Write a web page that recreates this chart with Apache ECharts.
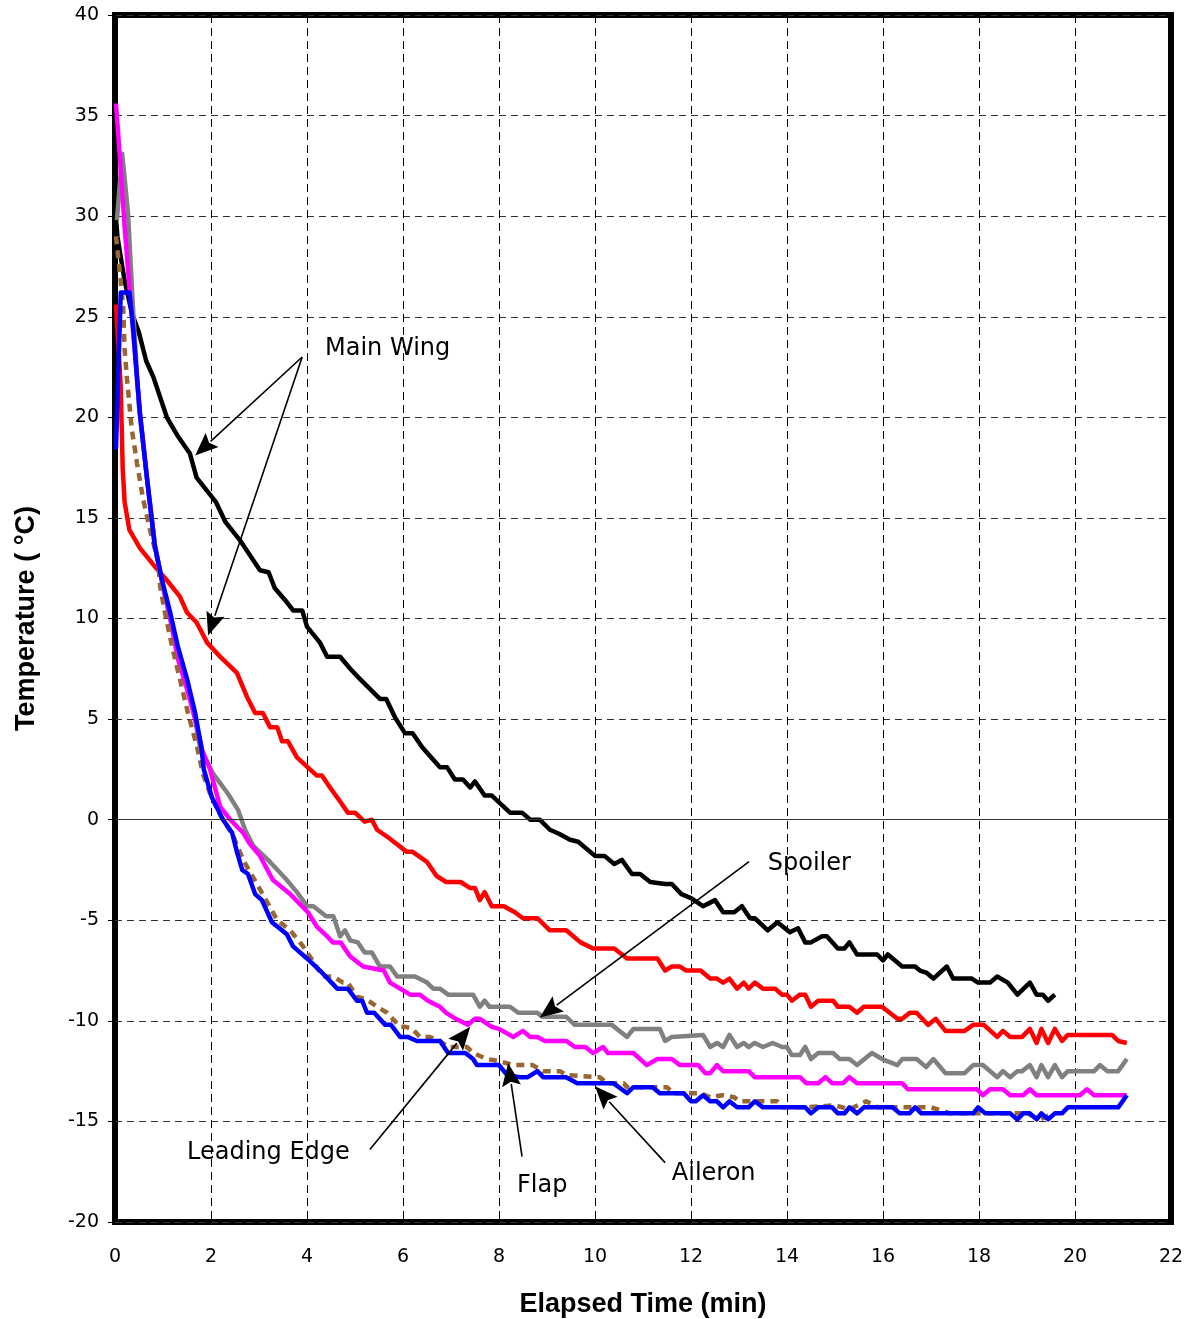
<!DOCTYPE html>
<html>
<head>
<meta charset="utf-8">
<script src="https://cdn.jsdelivr.net/npm/echarts@6/dist/echarts.min.js"></script>
<style>
html,body{margin:0;padding:0;background:#fff;}
#chart{width:1190px;height:1319px;}
</style>
</head>
<body>
<div id="chart"></div>
<script>
// ---- Data: [elapsed time (min), temperature (°C)] ----
var mainWingUpper = [[0.0,30.5],[0.05,29.0],[0.2,26.8],[0.35,25.2],[0.5,24.2],[0.65,22.8],[0.8,22.0],[1.08,20.0],[1.3,19.1],[1.56,18.2],[1.7,17.0],[2.1,15.8],[2.3,14.8],[2.6,13.9],[3.02,12.4],[3.2,12.3],[3.33,11.5],[3.55,10.9],[3.71,10.4],[3.9,10.4],[4.0,9.6],[4.27,8.8],[4.42,8.1],[4.69,8.1],[4.9,7.5],[5.1,7.0],[5.52,6.0],[5.65,6.0],[5.83,5.1],[6.04,4.3],[6.2,4.3],[6.4,3.6],[6.77,2.6],[6.92,2.6],[7.08,2.0],[7.25,2.0],[7.4,1.6],[7.5,1.9],[7.7,1.2],[7.85,1.2],[8.23,0.35],[8.48,0.35],[8.65,0.0],[8.85,0.0],[9.06,-0.5],[9.25,-0.7],[9.48,-1.0],[9.65,-1.1],[10.0,-1.8],[10.2,-1.8],[10.4,-2.2],[10.56,-2.0],[10.77,-2.7],[10.94,-2.7],[11.15,-3.1],[11.46,-3.2],[11.6,-3.2],[11.8,-3.7],[12.0,-3.9],[12.25,-4.3],[12.5,-4.0],[12.67,-4.6],[12.9,-4.6],[13.06,-4.3],[13.23,-4.9],[13.33,-4.9],[13.6,-5.5],[13.8,-5.1],[14.06,-5.6],[14.23,-5.4],[14.38,-6.1],[14.5,-6.1],[14.73,-5.8],[14.83,-5.8],[15.06,-6.4],[15.2,-6.4],[15.3,-6.1],[15.46,-6.7],[15.88,-6.7],[16.0,-7.0],[16.1,-6.7],[16.4,-7.3],[16.67,-7.3],[16.77,-7.5],[16.9,-7.6],[17.05,-7.9],[17.33,-7.3],[17.46,-7.9],[17.85,-7.9],[17.98,-8.1],[18.23,-8.1],[18.38,-7.8],[18.6,-8.1],[18.8,-8.7],[19.06,-8.1],[19.2,-8.7],[19.33,-8.7],[19.44,-9.0],[19.58,-8.7]];

var mainWingLower = [[0.02,25.6],[0.12,21.5],[0.16,17.5],[0.2,15.8],[0.3,14.4],[0.52,13.5],[0.79,12.7],[1.08,11.9],[1.35,11.1],[1.5,10.3],[1.7,9.8],[1.92,8.8],[2.19,8.1],[2.54,7.3],[2.75,6.1],[2.92,5.3],[3.08,5.3],[3.23,4.6],[3.38,4.6],[3.48,3.9],[3.6,3.9],[3.79,3.1],[4.2,2.2],[4.31,2.2],[4.48,1.6],[4.69,0.9],[4.85,0.35],[5.0,0.35],[5.2,-0.1],[5.35,0.0],[5.46,-0.5],[5.7,-0.9],[6.08,-1.6],[6.2,-1.6],[6.5,-2.1],[6.7,-2.8],[6.9,-3.1],[7.2,-3.1],[7.4,-3.4],[7.5,-3.4],[7.6,-4.0],[7.7,-3.6],[7.85,-4.3],[8.1,-4.3],[8.33,-4.6],[8.5,-4.9],[8.8,-4.9],[9.06,-5.5],[9.4,-5.5],[9.7,-6.1],[9.96,-6.4],[10.4,-6.4],[10.67,-6.9],[11.3,-6.9],[11.46,-7.5],[11.6,-7.3],[11.77,-7.3],[11.9,-7.5],[12.2,-7.5],[12.4,-7.9],[12.54,-7.9],[12.67,-8.1],[12.8,-7.9],[12.96,-8.4],[13.1,-8.1],[13.2,-8.4],[13.33,-8.1],[13.5,-8.4],[13.75,-8.4],[13.9,-8.7],[14.0,-8.7],[14.1,-9.0],[14.27,-8.7],[14.38,-8.7],[14.5,-9.3],[14.65,-9.0],[14.96,-9.0],[15.06,-9.3],[15.3,-9.3],[15.46,-9.6],[15.6,-9.3],[15.98,-9.3],[16.3,-9.9],[16.4,-9.9],[16.56,-9.6],[16.7,-9.6],[16.94,-10.2],[17.1,-9.9],[17.3,-10.5],[17.7,-10.5],[17.88,-10.2],[18.1,-10.2],[18.38,-10.8],[18.5,-10.5],[18.65,-10.8],[18.9,-10.8],[19.06,-10.4],[19.2,-11.1],[19.3,-10.4],[19.44,-11.1],[19.58,-10.4],[19.73,-11.0],[19.85,-10.7],[20.77,-10.7],[20.9,-11.0],[21.08,-11.1]];

var spoiler = [[0.04,29.8],[0.15,33.1],[0.27,30.2],[0.38,25.2],[0.5,20.5],[0.67,16.9],[0.83,13.7],[1.0,11.5],[1.15,10.0],[1.31,8.4],[1.5,6.8],[1.67,5.0],[1.77,3.6],[2.04,2.3],[2.35,1.3],[2.56,0.5],[2.71,-0.5],[2.88,-1.3],[3.23,-2.1],[3.58,-3.0],[3.79,-3.6],[4.0,-4.3],[4.13,-4.3],[4.4,-4.8],[4.55,-4.8],[4.69,-5.8],[4.79,-5.5],[4.9,-6.0],[5.06,-6.1],[5.2,-6.6],[5.35,-6.6],[5.52,-7.3],[5.73,-7.3],[5.88,-7.8],[6.25,-7.8],[6.5,-8.1],[6.63,-8.4],[6.77,-8.4],[6.94,-8.7],[7.46,-8.7],[7.6,-9.3],[7.7,-9.0],[7.8,-9.3],[8.23,-9.3],[8.4,-9.6],[8.8,-9.6],[8.9,-9.8],[9.4,-9.8],[9.58,-10.2],[10.35,-10.2],[10.67,-10.8],[10.8,-10.4],[11.35,-10.4],[11.46,-11.0],[11.6,-10.8],[12.25,-10.7],[12.4,-11.3],[12.54,-11.1],[12.67,-11.3],[12.8,-10.7],[12.96,-11.3],[13.1,-11.1],[13.2,-11.3],[13.33,-11.1],[13.5,-11.3],[13.7,-11.1],[13.9,-11.3],[14.0,-11.3],[14.1,-11.7],[14.27,-11.7],[14.38,-11.3],[14.5,-11.9],[14.65,-11.6],[14.96,-11.6],[15.1,-11.9],[15.3,-11.9],[15.46,-12.2],[15.77,-11.6],[15.98,-11.9],[16.3,-12.2],[16.4,-11.9],[16.7,-11.9],[16.9,-12.3],[17.05,-11.9],[17.3,-12.6],[17.7,-12.6],[17.88,-12.2],[18.08,-12.2],[18.38,-12.8],[18.5,-12.5],[18.65,-12.8],[18.8,-12.5],[18.9,-12.5],[19.06,-12.2],[19.2,-12.8],[19.3,-12.2],[19.44,-12.8],[19.58,-12.2],[19.73,-12.8],[19.85,-12.5],[20.4,-12.5],[20.52,-12.2],[20.67,-12.5],[20.9,-12.5],[21.08,-11.9]];

var leadingEdge = [[0.02,35.6],[0.1,33.0],[0.2,29.5],[0.31,26.2],[0.46,21.9],[0.52,20.2],[0.67,16.9],[0.83,13.6],[0.98,11.9],[1.15,10.0],[1.31,8.0],[1.5,6.5],[1.67,5.0],[1.81,3.5],[1.98,2.5],[2.19,0.65],[2.4,0.0],[2.67,-0.65],[2.81,-1.2],[3.02,-1.8],[3.29,-3.0],[3.65,-3.7],[4.02,-4.6],[4.2,-5.3],[4.42,-5.8],[4.54,-6.1],[4.7,-6.1],[4.9,-6.8],[5.17,-7.3],[5.6,-7.5],[5.73,-8.1],[5.94,-8.4],[6.15,-8.7],[6.35,-8.7],[6.52,-9.0],[6.77,-9.3],[6.9,-9.6],[7.1,-9.9],[7.35,-10.2],[7.5,-9.9],[7.6,-9.9],[7.85,-10.3],[8.0,-10.4],[8.3,-10.8],[8.5,-10.5],[8.65,-10.8],[8.8,-10.8],[8.96,-11.0],[9.4,-11.0],[9.58,-11.3],[9.8,-11.3],[9.96,-11.6],[10.17,-11.3],[10.27,-11.6],[10.8,-11.6],[11.08,-12.2],[11.3,-11.9],[11.6,-11.9],[11.77,-12.2],[12.15,-12.2],[12.3,-12.6],[12.4,-12.6],[12.54,-12.2],[12.67,-12.5],[13.2,-12.5],[13.33,-12.8],[14.27,-12.8],[14.4,-13.1],[14.65,-13.1],[14.8,-12.8],[14.94,-13.1],[15.17,-13.1],[15.3,-12.8],[15.46,-13.1],[16.4,-13.1],[16.52,-13.4],[17.96,-13.4],[18.08,-13.7],[18.23,-13.4],[18.5,-13.4],[18.65,-13.7],[18.92,-13.7],[19.06,-13.4],[19.2,-13.7],[20.1,-13.7],[20.25,-13.4],[20.4,-13.7],[21.08,-13.7]];

var flap = [[0.02,29.0],[0.1,27.2],[0.17,25.5],[0.2,23.4],[0.25,21.9],[0.35,19.4],[0.46,17.7],[0.58,16.0],[0.73,14.4],[0.9,12.8],[0.94,11.6],[1.04,10.3],[1.19,8.6],[1.35,7.0],[1.52,5.3],[1.71,3.6],[1.83,2.3],[1.98,1.3],[2.2,0.2],[2.46,-0.8],[2.67,-2.0],[2.98,-3.3],[3.17,-4.1],[3.38,-5.0],[3.65,-5.5],[3.92,-6.3],[4.06,-6.8],[4.33,-7.8],[4.55,-7.8],[4.75,-8.1],[4.85,-8.1],[5.04,-8.8],[5.25,-8.95],[5.46,-9.3],[5.67,-9.6],[5.94,-10.3],[6.05,-10.3],[6.2,-10.4],[6.35,-10.8],[6.55,-10.8],[6.77,-11.0],[6.94,-11.3],[7.33,-11.3],[7.46,-11.6],[7.75,-11.9],[8.0,-12.0],[8.3,-12.2],[8.7,-12.2],[8.92,-12.5],[9.27,-12.5],[9.4,-12.7],[10.1,-12.8],[10.25,-13.1],[10.6,-13.1],[10.67,-13.3],[11.5,-13.3],[11.63,-13.6],[12.2,-13.6],[12.4,-13.8],[12.65,-13.7],[12.9,-13.8],[13.0,-14.0],[13.8,-14.0],[13.9,-14.3],[14.4,-14.3],[15.0,-14.2],[15.3,-14.4],[15.65,-14.0],[15.9,-14.3],[16.5,-14.3],[17.0,-14.3],[17.4,-14.6],[18.0,-14.6],[18.5,-14.6],[19.0,-14.6],[19.27,-14.9],[19.55,-14.6]];

var aileron = [[0.02,18.4],[0.12,26.2],[0.3,26.2],[0.38,24.4],[0.46,21.9],[0.52,20.2],[0.67,16.9],[0.83,13.6],[0.98,11.9],[1.15,10.3],[1.31,8.6],[1.5,7.0],[1.67,5.3],[1.8,3.6],[1.85,2.5],[2.02,1.1],[2.25,0.0],[2.44,-0.65],[2.54,-1.6],[2.65,-2.5],[2.77,-2.7],[2.92,-3.7],[3.06,-4.0],[3.27,-5.1],[3.58,-5.7],[3.71,-6.3],[4.0,-6.9],[4.27,-7.5],[4.63,-8.4],[4.85,-8.4],[5.04,-9.0],[5.15,-9.0],[5.25,-9.6],[5.4,-9.6],[5.63,-10.2],[5.75,-10.2],[5.94,-10.8],[6.1,-10.8],[6.29,-11.0],[6.77,-11.0],[6.94,-11.6],[7.3,-11.6],[7.46,-11.9],[7.54,-12.2],[8.0,-12.2],[8.17,-12.7],[8.44,-12.8],[8.6,-12.8],[8.8,-12.5],[8.92,-12.8],[9.4,-12.8],[9.63,-13.1],[10.38,-13.1],[10.67,-13.6],[10.8,-13.3],[11.2,-13.3],[11.35,-13.6],[11.85,-13.6],[12.0,-14.0],[12.1,-14.0],[12.25,-13.7],[12.4,-14.0],[12.54,-14.0],[12.67,-14.3],[12.8,-14.0],[12.96,-14.3],[13.2,-14.3],[13.33,-14.0],[13.5,-14.3],[14.38,-14.3],[14.5,-14.6],[14.65,-14.3],[14.94,-14.3],[15.06,-14.6],[15.2,-14.6],[15.3,-14.3],[15.46,-14.6],[15.6,-14.3],[16.2,-14.3],[16.35,-14.6],[16.55,-14.6],[16.67,-14.3],[16.8,-14.6],[17.88,-14.6],[17.98,-14.3],[18.13,-14.6],[18.65,-14.6],[18.8,-14.9],[18.92,-14.6],[19.06,-14.6],[19.2,-14.9],[19.3,-14.6],[19.44,-14.9],[19.58,-14.6],[19.73,-14.6],[19.85,-14.3],[20.9,-14.3],[21.08,-13.7]];

var xTicks = {min: 0, max: 22, interval: 2};
var yTicks = {min: -20, max: 40, interval: 5};

var labelFont = 'DejaVu Sans';
var titleFont = 'Liberation Sans';

var chart = echarts.init(document.getElementById('chart'), null, {renderer: 'canvas'});

function lineSeries(name, data, color, extra) {
  var s = {
    name: name, type: 'line', data: data, showSymbol: false, symbol: 'none',
    animation: false, silent: true,
    lineStyle: {color: color, width: 4.5, join: 'round'},
    z: 3
  };
  if (extra) for (var k in extra) s[k] = extra[k];
  return s;
}

var option = {
  animation: false,
  backgroundColor: '#fff',
  grid: {left: 115, right: 19, top: 15, bottom: 97, show: true,
         outerBoundsMode: 'none', containLabel: false,
         borderColor: '#000', borderWidth: 6, backgroundColor: 'transparent'},
  xAxis: {
    type: 'value', min: xTicks.min, max: xTicks.max, interval: xTicks.interval,
    name: 'Elapsed Time (min)', nameLocation: 'middle', nameGap: 69,
    nameTextStyle: {fontFamily: titleFont, fontWeight: 'bold', fontSize: 27, color: '#000'},
    axisLine: {show: false}, axisTick: {show: false},
    axisLabel: {fontFamily: labelFont, fontSize: 19, color: '#000', margin: 26},
    splitLine: {show: true, lineStyle: {color: '#000', width: 1, type: [8, 5]}}
  },
  yAxis: {
    type: 'value', min: yTicks.min, max: yTicks.max, interval: yTicks.interval,
    name: 'Temperature ( °C)', nameLocation: 'middle', nameGap: 75,
    nameTextStyle: {fontFamily: titleFont, fontWeight: 'bold', fontSize: 27, color: '#000'},
    axisLine: {show: false},
    axisTick: {show: true, inside: false, length: 7, lineStyle: {color: '#000', width: 1}},
    axisLabel: {fontFamily: labelFont, fontSize: 19, color: '#000', margin: 16},
    splitLine: {show: true, lineStyle: {color: '#333', width: 1, type: [7, 5]}}
  },
  series: [
    {type: 'line', data: [], silent: true, z: 1,
     markLine: {silent: true, symbol: ['none', 'none'], animation: false,
                label: {show: false},
                lineStyle: {color: '#333', width: 1.2, type: 'solid'},
                data: [{yAxis: 0}]}},
    lineSeries('Main Wing (upper)', mainWingUpper, '#000000'),
    lineSeries('Main Wing (lower)', mainWingLower, '#ff0000'),
    lineSeries('Spoiler', spoiler, '#808080'),
    lineSeries('Leading Edge', leadingEdge, '#ff00ff'),
    lineSeries('Flap', flap, '#996633', {lineStyle: {color: '#996633', width: 4.5, type: [8, 6]}}),
    lineSeries('Aileron', aileron, '#0000ff')
  ]
};
chart.setOption(option);

// ---- Annotations (placed in data coordinates through the chart's scales) ----
var arrows = [
  {from: [3.9, 23.0], to: [1.67, 18.1]},
  {from: [3.9, 23.0], to: [1.94, 9.15]},
  {from: [13.21, -2.09], to: [8.85, -9.84]},
  {from: [5.31, -16.4], to: [7.4, -10.3]},
  {from: [8.48, -16.75], to: [8.19, -12.1]},
  {from: [11.46, -17.05], to: [10.0, -13.25]}
];
var texts = [
  {text: 'Main Wing', at: [4.375, 23.4]},
  {text: 'Spoiler', at: [13.6, -2.19]},
  {text: 'Leading Edge', at: [1.5, -16.55]},
  {text: 'Flap', at: [8.375, -18.2]},
  {text: 'Aileron', at: [11.6, -17.6]}
];

var graphics = [];
arrows.forEach(function (a) {
  var p0 = chart.convertToPixel({gridIndex: 0}, a.from);
  var p1 = chart.convertToPixel({gridIndex: 0}, a.to);
  var dx = p1[0] - p0[0], dy = p1[1] - p0[1];
  var len = Math.sqrt(dx * dx + dy * dy);
  var ux = dx / len, uy = dy / len;
  var headLen = 23, headHalf = 9.5;
  var bx = p1[0] - ux * headLen, by = p1[1] - uy * headLen;
  graphics.push({type: 'line', z: 50, silent: true,
    shape: {x1: p0[0], y1: p0[1], x2: bx + ux * 2, y2: by + uy * 2},
    style: {stroke: '#000', lineWidth: 1.6}});
  graphics.push({type: 'polygon', z: 50, silent: true,
    shape: {points: [[p1[0], p1[1]], [bx - uy * headHalf, by + ux * headHalf], [bx + ux * 4, by + uy * 4], [bx + uy * headHalf, by - ux * headHalf]]},
    style: {fill: '#000'}});
});
texts.forEach(function (t) {
  var p = chart.convertToPixel({gridIndex: 0}, t.at);
  graphics.push({type: 'text', z: 50, silent: true, x: p[0], y: p[1],
    style: {text: t.text, fill: '#000', font: '24px "' + labelFont + '"',
            textAlign: 'left', textVerticalAlign: 'middle'}});
});
chart.setOption({graphic: graphics});
</script>
</body>
</html>
